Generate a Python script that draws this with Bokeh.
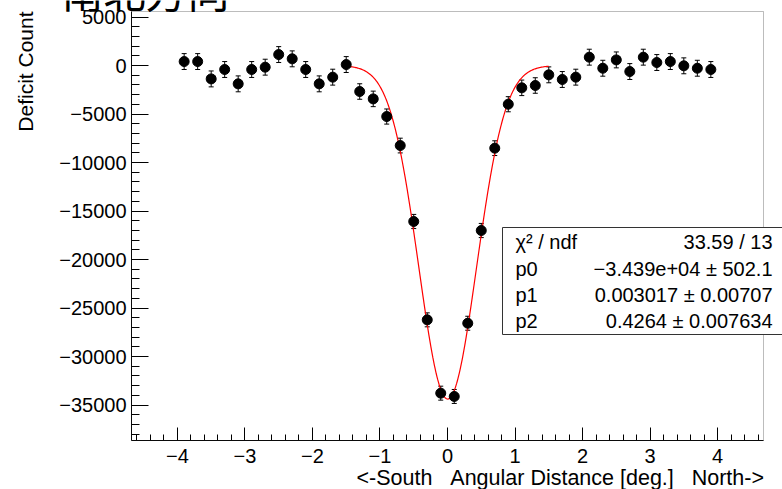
import numpy as np
from bokeh.plotting import figure
from bokeh.models import (Range1d, FixedTicker, Label, BoxAnnotation, Whisker,
                          TeeHead, ColumnDataSource)
from bokeh.embed import file_html
from bokeh.resources import INLINE

# ---------------- data ----------------
angle_deg = [-3.9, -3.7, -3.5, -3.3, -3.1, -2.9, -2.7, -2.5, -2.3, -2.1,
             -1.9, -1.7, -1.5, -1.3, -1.1, -0.9, -0.7, -0.5, -0.3, -0.1,
             0.1, 0.3, 0.5, 0.7, 0.9, 1.1, 1.3, 1.5, 1.7, 1.9,
             2.1, 2.3, 2.5, 2.7, 2.9, 3.1, 3.3, 3.5, 3.7, 3.9]
deficit = [410, 410, -1380, -410, -1890, -410, -170, 1130, 690, -410,
           -1890, -1200, 100, -2680, -3440, -5260, -8250, -16080, -26220, -33780,
           -34120, -26570, -17010, -8520, -3990, -2300, -2060, -960, -1440, -1200,
           860, -280, 580, -620, 860, 310, 410, -30, -280, -410]
errors = [820, 820, 820, 820, 820, 820, 820, 820, 820, 820,
          820, 820, 820, 800, 800, 780, 760, 730, 720, 720,
          720, 720, 730, 760, 780, 800, 800, 820, 820, 820,
          820, 820, 820, 820, 820, 820, 820, 820, 820, 820]

# Gaussian fit parameters (from the stats box)
fit_p0 = -3.439e4
fit_p1 = 0.003017
fit_p2 = 0.4264
fit_range = [-1.5, 1.5]

stat_names = ["\u03c7\u00b2 / ndf", "p0", "p1", "p2"]
stat_values = ["33.59 / 13",
               "\u22123.439e+04 \u00b1 502.1",
               "0.003017 \u00b1 0.00707",
               "0.4264 \u00b1 0.007634"]

x_major = [-4, -3, -2, -1, 0, 1, 2, 3, 4]
x_minor = [round(-4.6 + 0.2 * i, 1) for i in range(47)]
y_major = [-35000, -30000, -25000, -20000, -15000, -10000, -5000, 0, 5000]
y_minor = list(range(-38000, 5001, 1000))

title_text = "南北方向"
x_title = "<-South\u00a0\u00a0\u00a0Angular Distance [deg.]\u00a0\u00a0\u00a0North->"
y_title = "Deficit Count"

# ---------------- layout ----------------
W, H = 782, 489
L, R, T, B = 131, 763, 11, 440          # the drawn frame, in pixels
XMIN, XMAX = -4.68, 4.68
YMIN, YMAX = -38660, 5570


def px2x(px):
    return XMIN + (px - L) / (R - L) * (XMAX - XMIN)


def py2y(py):
    return YMAX - (py - T) / (B - T) * (YMAX - YMIN)


FONT = "Liberation Sans"

# the Bokeh frame covers the whole canvas; the ROOT-like frame is drawn inside it
p = figure(width=W, height=H,
           x_range=Range1d(px2x(0), px2x(W)), y_range=Range1d(py2y(H), py2y(0)),
           output_backend="svg", toolbar_location=None,
           min_border_left=0, min_border_right=0, min_border_top=0, min_border_bottom=0)
p.background_fill_color = "white"
p.border_fill_color = "white"
p.outline_line_color = None
p.grid.visible = False

p.xaxis.ticker = FixedTicker(ticks=x_major, minor_ticks=x_minor)
p.yaxis.ticker = FixedTicker(ticks=y_major, minor_ticks=y_minor)
p.xaxis.major_label_overrides = {v: (str(v).replace("-", "\u2212")) for v in x_major}
p.yaxis.major_label_overrides = {v: (str(v).replace("-", "\u2212")) for v in y_major}
p.xaxis.fixed_location = YMIN
p.yaxis.fixed_location = XMIN
p.xaxis.bounds = (XMIN, XMAX)
p.yaxis.bounds = (YMIN, YMAX)

for ax in (p.xaxis[0], p.yaxis[0]):
    ax.axis_line_color = "black"
    ax.axis_line_width = 1
    ax.major_tick_line_color = "black"
    ax.minor_tick_line_color = "black"
    ax.major_tick_out = 0
    ax.minor_tick_out = 0
    ax.major_label_text_font = FONT
    ax.major_label_text_font_size = "20px"
    ax.major_label_text_color = "black"
    ax.axis_label = None

p.xaxis.major_tick_in = 13
p.xaxis.minor_tick_in = 6
p.yaxis.major_tick_in = 17
p.yaxis.minor_tick_in = 8
p.xaxis.major_label_standoff = 8
p.yaxis.major_label_standoff = 5

# frame outline (top and right edges; bottom/left are the axes)
p.add_layout(BoxAnnotation(left=XMIN, right=XMAX, top=YMAX, bottom=YMIN,
                           fill_alpha=0.0, line_color="#222222", line_width=1))

# fit curve
xf = np.linspace(fit_range[0], fit_range[1], 300)
yf = fit_p0 * np.exp(-0.5 * ((xf - fit_p1) / fit_p2) ** 2)
p.line(xf, yf, line_color="#ff0000", line_width=1.2)

# data points with error bars
src = ColumnDataSource(dict(
    x=angle_deg, y=deficit,
    upper=[v + e for v, e in zip(deficit, errors)],
    lower=[v - e for v, e in zip(deficit, errors)],
))
p.scatter("x", "y", source=src, size=10, fill_color="black", line_color="black")
p.add_layout(Whisker(source=src, base="x", upper="upper", lower="lower",
                     line_color="black", line_width=1,
                     upper_head=TeeHead(size=5, line_color="black", line_width=1),
                     lower_head=TeeHead(size=5, line_color="black", line_width=1)))

# stats box
p.add_layout(BoxAnnotation(left=px2x(502), right=px2x(800), top=py2y(227), bottom=py2y(334),
                           fill_color="white", fill_alpha=1.0,
                           line_color="#333333", line_width=1, line_alpha=1.0))
row_y = [241, 268, 294, 320]
for name, val, yy in zip(stat_names, stat_values, row_y):
    p.add_layout(Label(x=px2x(515), y=py2y(yy), text=name, text_font=FONT,
                       text_font_size="20px", text_baseline="middle", text_align="left",
                       text_color="black"))
    p.add_layout(Label(x=px2x(772), y=py2y(yy), text=val, text_font=FONT,
                       text_font_size="20px", text_baseline="middle", text_align="right",
                       text_color="black"))

# axis titles
p.add_layout(Label(x=px2x(763.5), y=py2y(477), text=x_title, text_font=FONT,
                   text_font_size="21.5px", text_baseline="middle", text_align="right",
                   text_color="black"))
p.add_layout(Label(x=px2x(25), y=py2y(11), text=y_title, text_font=FONT,
                   text_font_size="21px", text_baseline="middle", text_align="right",
                   angle=np.pi / 2, text_color="black"))

# title (mostly cut off at the top, as in the reference)
p.add_layout(Label(x=px2x(61), y=py2y(-11), text=title_text, text_font="Noto Sans CJK JP",
                   text_font_size="42px", text_baseline="alphabetic", text_align="left",
                   text_color="black"))

open("out.html", "w").write(file_html(p, INLINE))
